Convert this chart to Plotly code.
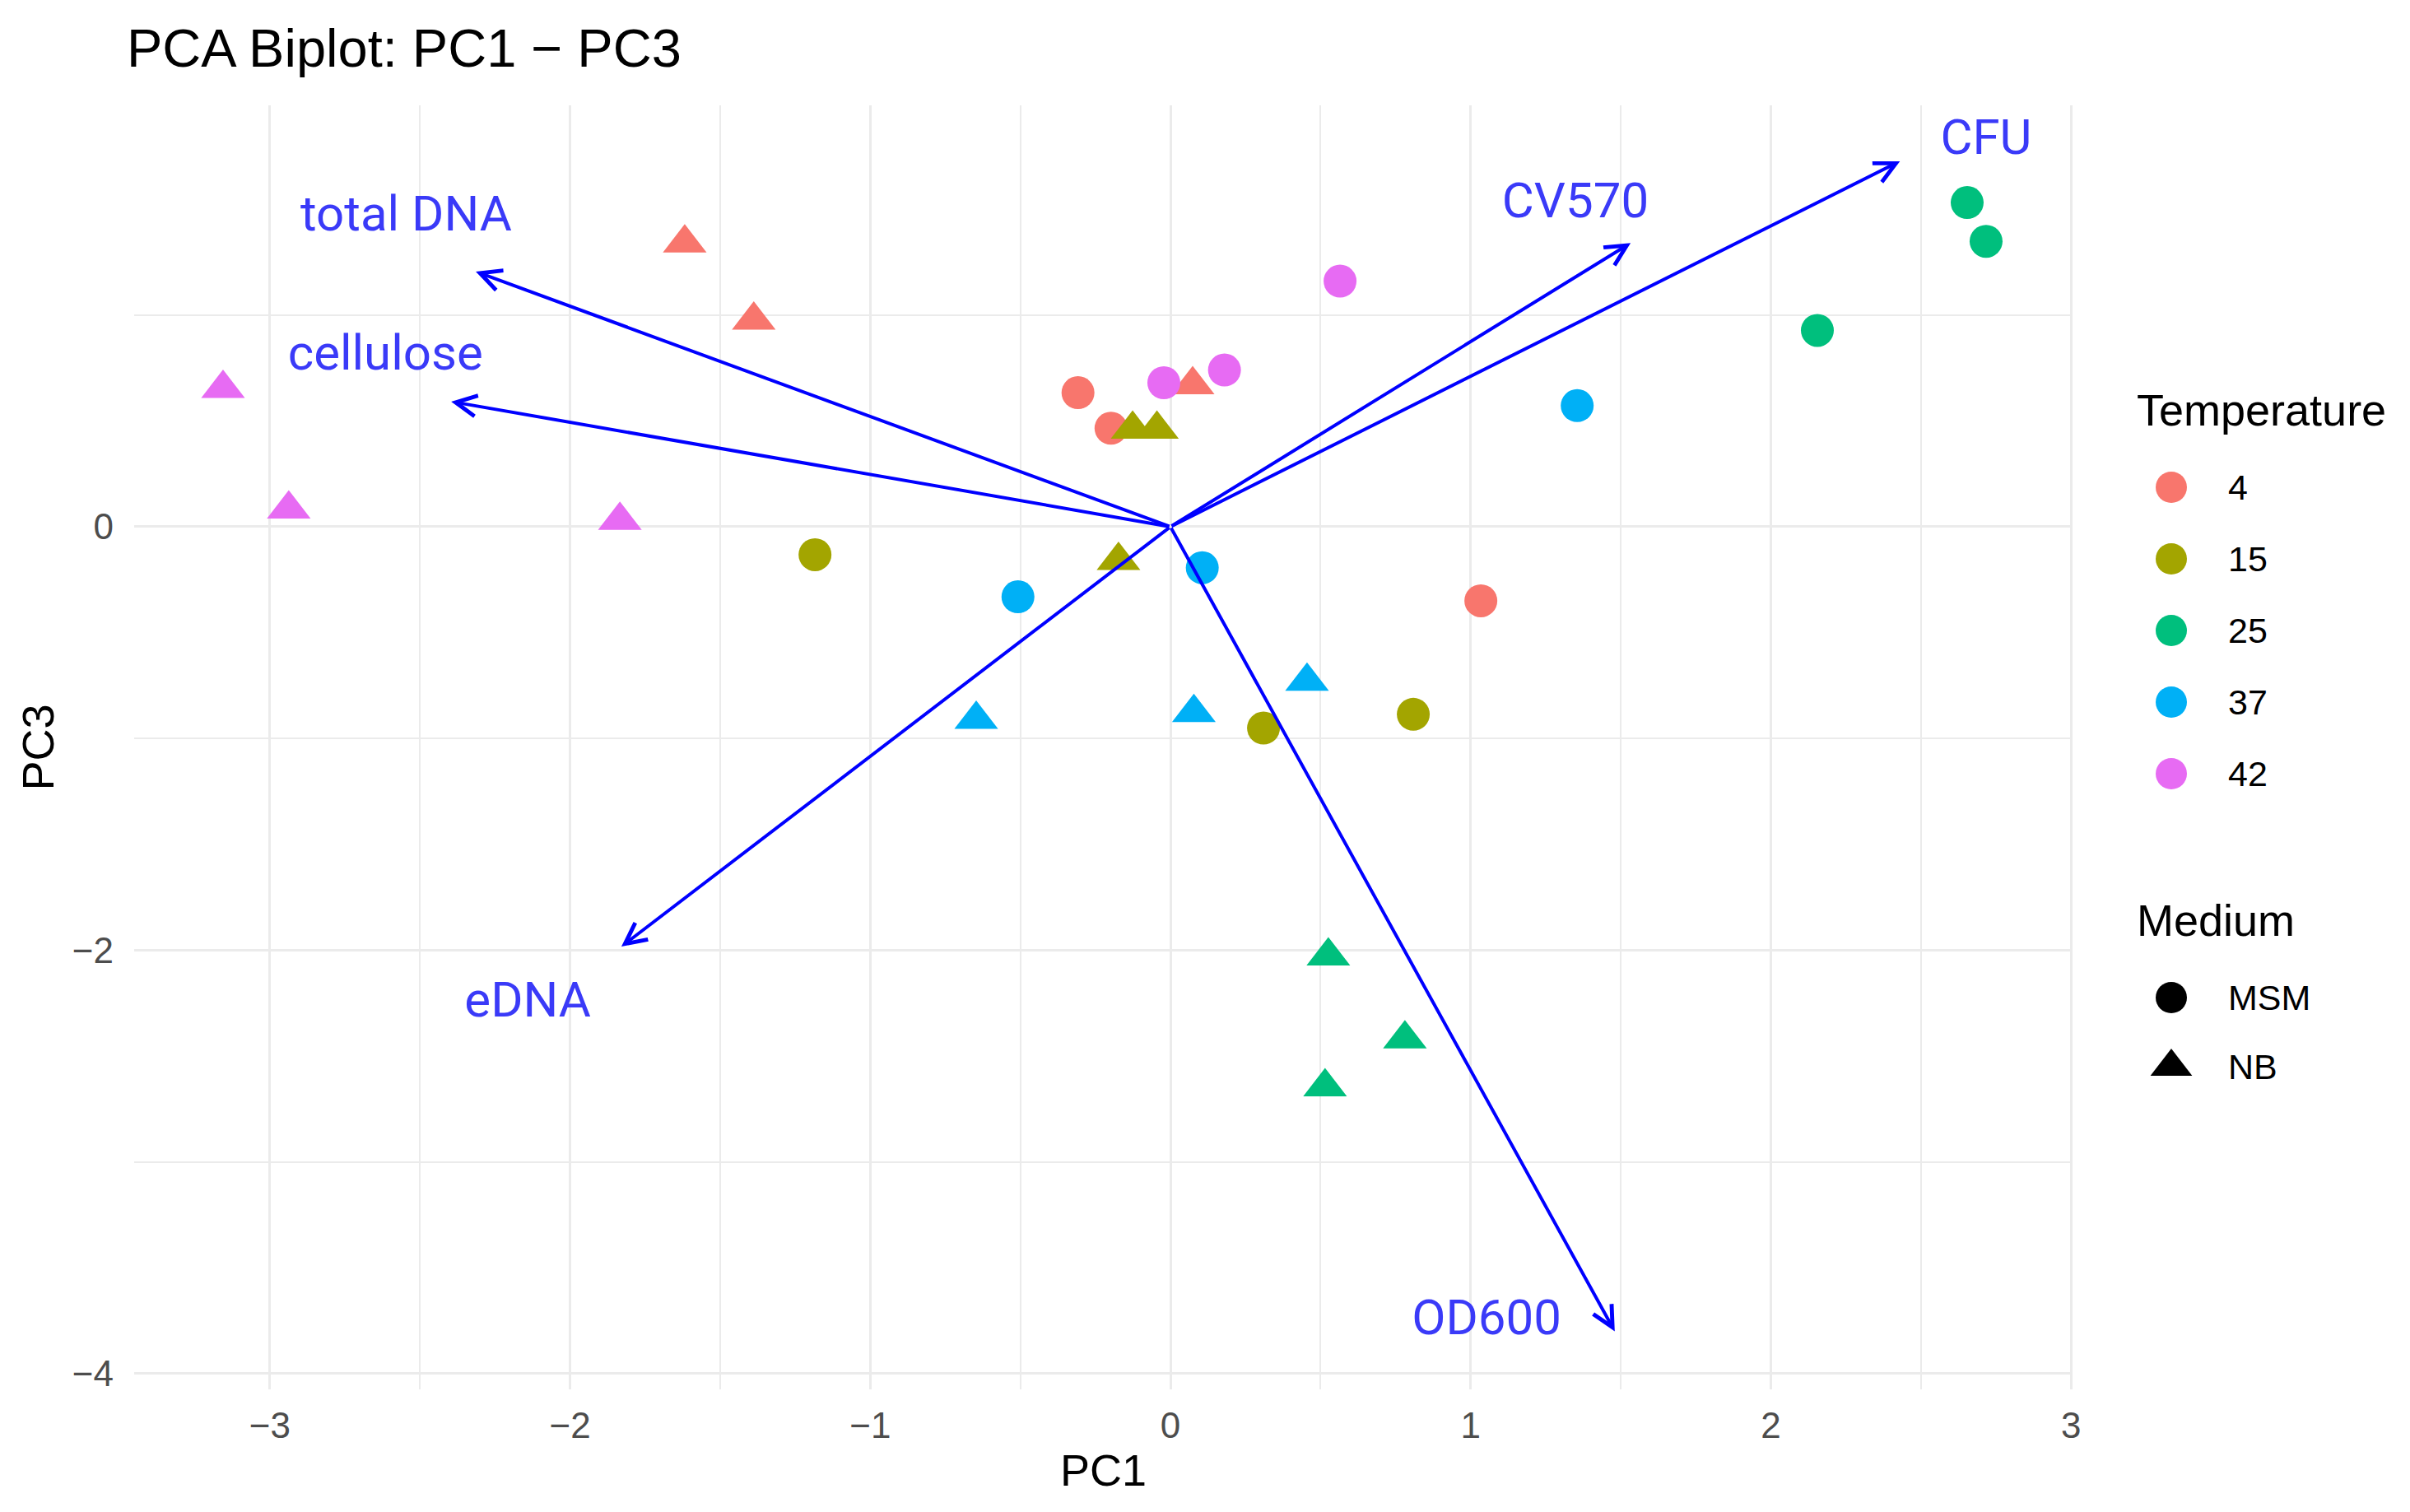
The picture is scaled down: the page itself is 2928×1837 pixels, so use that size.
import plotly.graph_objects as go

# sample scores (PC1, PC3) with their grouping
pc1 = [-1.618, -1.388, -0.308, -0.198, 0.074, 1.034,
       -0.126, -0.045, -0.173, -1.184, 0.310, 0.809,
       2.654, 2.717, 2.155, 0.526, 0.781, 0.515,
       1.355, -0.508, 0.106, -0.647, 0.078, 0.455,
       -3.156, -2.937, -1.834, 0.565, -0.022, 0.180]
pc3 = [1.340, 0.975, 0.633, 0.465, 0.670, -0.350,
       0.460, 0.460, -0.160, -0.132, -0.951, -0.886,
       1.531, 1.348, 0.927, -2.027, -2.419, -2.645,
       0.572, -0.331, -0.194, -0.910, -0.878, -0.730,
       0.653, 0.083, 0.030, 1.160, 0.680, 0.740]
temperature = ["4"] * 6 + ["15"] * 6 + ["25"] * 6 + ["37"] * 6 + ["42"] * 6
medium = ["NB", "NB", "MSM", "MSM", "NB", "MSM",
          "NB", "NB", "NB", "MSM", "MSM", "MSM",
          "MSM", "MSM", "MSM", "NB", "NB", "NB",
          "MSM", "MSM", "MSM", "NB", "NB", "NB",
          "NB", "NB", "NB", "MSM", "MSM", "MSM"]

# variable loadings (arrow tips) and label positions
variables = ["total DNA", "cellulose", "CV570", "CFU", "eDNA", "OD600"]
load_pc1 = [-2.314, -2.396, 1.533, 2.430, -1.829, 1.480]
load_pc3 = [1.205, 0.591, 1.340, 1.726, -1.983, -3.800]
label_pc1 = [-2.546, -2.615, 1.349, 2.717, -2.141, 1.053]
label_pc3 = [1.457, 0.800, 1.520, 1.820, -2.255, -3.755]

temp_levels = ["4", "15", "25", "37", "42"]
temp_colors = ["#F8766D", "#A3A500", "#00BF7D", "#00B0F6", "#E76BF3"]
medium_levels = ["MSM", "NB"]
medium_symbols = ["circle", "triangle-up"]

x_ticks = [-3, -2, -1, 0, 1, 2, 3]
y_ticks = [-4, -2, 0]

color_of = dict(zip(temp_levels, temp_colors))
symbol_of = dict(zip(medium_levels, medium_symbols))
size_of = {"MSM": 40, "NB": 46}

fig = go.Figure()

fig.add_trace(go.Scatter(
    x=pc1, y=pc3, mode="markers", showlegend=False, hoverinfo="skip",
    marker=dict(
        color=[color_of[t] for t in temperature],
        symbol=[symbol_of[m] for m in medium],
        size=[size_of[m] for m in medium],
        opacity=1, line=dict(width=0),
    ),
))

fig.add_trace(go.Scatter(
    x=label_pc1, y=label_pc3, text=variables, mode="text", showlegend=False,
    hoverinfo="skip", textfont=dict(size=60, color="#3A3AF8", family="Roboto"),
))

for i, var in enumerate(variables):
    fig.add_annotation(
        x=load_pc1[i], y=load_pc3[i], ax=0, ay=0, xref="x", yref="y", axref="x", ayref="y",
        text="", showarrow=True, arrowhead=5, arrowsize=1.25, arrowwidth=4, arrowcolor="#0000FF",
    )

# hand drawn legend on a hidden pixel axis at the right
leg_sym_x = 2630
leg_text_x = 2697
leg_title_x = 2586
temp_title_y = 490
medium_title_y = 1110
row_gap = 94
row_step = 87

temp_rows = [temp_title_y + row_gap + i * row_step for i in range(len(temp_levels))]
medium_rows = [medium_title_y + row_gap + i * (row_step - 3) for i in range(len(medium_levels))]

fig.add_trace(go.Scatter(
    x=[leg_sym_x] * len(temp_levels), y=temp_rows, mode="markers", showlegend=False,
    hoverinfo="skip", xaxis="x2", yaxis="y2",
    marker=dict(color=temp_colors, symbol="circle", size=38, opacity=1, line=dict(width=0)),
))
fig.add_trace(go.Scatter(
    x=[leg_sym_x] * len(medium_levels), y=medium_rows, mode="markers", showlegend=False,
    hoverinfo="skip", xaxis="x2", yaxis="y2",
    marker=dict(color="black", symbol=medium_symbols, size=[38, 44], opacity=1,
                line=dict(width=0)),
))

legend_text = [("Temperature", leg_title_x, temp_title_y, 54)]
legend_text += [(t, leg_text_x, y, 43) for t, y in zip(temp_levels, temp_rows)]
legend_text += [("Medium", leg_title_x, medium_title_y, 54)]
legend_text += [(m, leg_text_x, y, 43) for m, y in zip(medium_levels, medium_rows)]
for txt, x, y, size in legend_text:
    fig.add_annotation(
        x=x, y=y, xref="x2", yref="y2", text=txt, showarrow=False,
        xanchor="left", yanchor="middle", font=dict(size=size, color="black"),
    )

W, H = 2928, 1837
ml, mr, mt, mb = 155, 10, 120, 157
plot_right = 2510
x_end = (plot_right - ml) / (W - ml - mr)

grid = "#EBEBEB"
fig.update_layout(
    width=W, height=H, template="none",
    paper_bgcolor="white", plot_bgcolor="white",
    margin=dict(l=ml, r=mr, t=mt, b=mb, pad=0),
    font=dict(family="Liberation Sans, Arial, sans-serif", color="black"),
    title=dict(
        text="PCA Biplot: PC1 \u2212 PC3", x=(ml - 9) / W, xref="container", xanchor="left",
        y=1 - 50 / H, yref="container", yanchor="middle", font=dict(size=65, color="black"),
    ),
    xaxis=dict(
        domain=[0, x_end], range=[-3.452, 3.005], tickvals=x_ticks, showgrid=True,
        gridcolor=grid, gridwidth=3, zeroline=False, showline=False, ticks="",
        ticklabelstandoff=14, tickfont=dict(size=44, color="#4D4D4D"),
        minor=dict(tick0=0, dtick=0.5, showgrid=True, gridcolor=grid, gridwidth=1.6),
        title=dict(text="PC1", font=dict(size=54), standoff=12), automargin=False,
    ),
    yaxis=dict(
        range=[-4.074, 1.99], tickvals=y_ticks, showgrid=True, gridcolor=grid, gridwidth=3,
        zeroline=False, showline=False, ticks="", ticklabelstandoff=24,
        tickfont=dict(size=44, color="#4D4D4D"),
        minor=dict(tick0=0, dtick=1, showgrid=True, gridcolor=grid, gridwidth=1.6),
        title=dict(text="PC3", font=dict(size=54), standoff=4), automargin=False,
    ),
    xaxis2=dict(domain=[x_end, 1], range=[plot_right, W - mr], visible=False, fixedrange=True),
    yaxis2=dict(anchor="x2", domain=[0, 1], range=[H - mb, mt], visible=False, fixedrange=True),
    showlegend=False,
)

fig.write_html("out.html")
